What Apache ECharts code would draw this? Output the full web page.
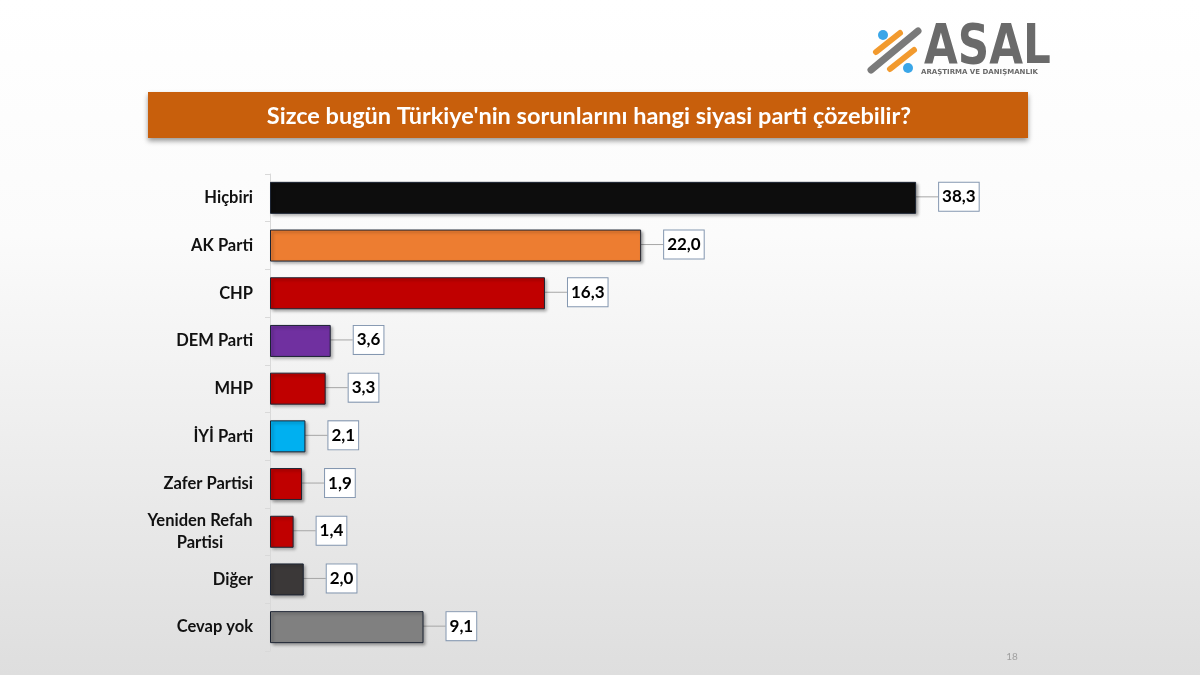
<!DOCTYPE html>
<html><head><meta charset="utf-8">
<script src="https://cdn.jsdelivr.net/npm/echarts@6/dist/echarts.min.js"></script>
<style>html,body{margin:0;padding:0;}#c{width:1200px;height:675px;}</style>
</head><body><div id="c"></div>
<script>
const categories = ['Hiçbiri','AK Parti','CHP','DEM Parti','MHP','İYİ Parti','Zafer Partisi','Yeniden Refah\nPartisi','Diğer','Cevap yok'];
const values = [38.3, 22.0, 16.3, 3.6, 3.3, 2.1, 1.9, 1.4, 2.0, 9.1];
const colors = ['#0d0d0d','#ED7D31','#C00000','#7030A0','#C00000','#00B0F0','#C00000','#C00000','#3B3838','#808080'];
const titleText = "Sizce bugün Türkiye'nin sorunlarını hangi siyasi parti çözebilir?";

const chart = echarts.init(document.getElementById('c'));
const font = 'Lato, "Open Sans", sans-serif';
chart.setOption({
  backgroundColor: {type:'linear',x:0,y:0,x2:0,y2:1,colorStops:[{offset:0,color:'#ffffff'},{offset:0.35,color:'#fbfbfb'},{offset:1,color:'#dedede'}]},
  animation:false,
  grid:{left:270,top:174,width:843.5,height:477},
  xAxis:{type:'value',min:0,max:50,show:false},
  yAxis:{type:'category',inverse:true,data:categories,
    axisLine:{show:true,lineStyle:{color:'#d9d9d9'}},
    axisTick:{show:true,length:5,lineStyle:{color:'#d9d9d9'}},
    axisLabel:{margin:17,color:'#111',fontFamily:font,fontWeight:'bold',fontSize:16.5,lineHeight:22,
      formatter:v=>{
        if(v.indexOf('\n')<0) return v;
        return v.split('\n').map(s=>'{c|'+s+'}').join('\n');
      },
      rich:{c:{width:106,align:'center',fontFamily:font,fontWeight:'bold',fontSize:16.5,lineHeight:22,color:'#111'}}
    }
  },
  series:[{
    type:'bar',
    barWidth:32,
    data:values.map((v,i)=>({value:v,itemStyle:{color:colors[i]}})),
    itemStyle:{borderColor:'#1c2433',borderWidth:1,shadowColor:'rgba(0,0,0,0.35)',shadowBlur:3,shadowOffsetX:2,shadowOffsetY:2},
    label:{show:true,position:'right',distance:0,
      formatter:p=>p.value.toFixed(1).replace('.',','),
      color:'#000',fontFamily:font,fontWeight:'bold',fontSize:17,lineHeight:18,
      backgroundColor:'#ffffff',borderColor:'#8497b0',borderWidth:1,padding:[5,3,5,3]},
    labelLayout:{dx:23,dy:-1},
    labelLine:{show:true,lineStyle:{color:'#a6a6a6',width:1}}
  }],
  graphic:[
    {type:'rect',shape:{x:148,y:92,width:880,height:46},style:{fill:'#C85F0C',shadowColor:'rgba(0,0,0,0.4)',shadowBlur:5,shadowOffsetY:3}},
    {type:'text',x:589,y:116,style:{text:titleText,fill:'#fff',font:'bold 23.5px '+font,align:'center',verticalAlign:'middle'}},
    {type:'line',shape:{x1:871,y1:70,x2:918,y2:31},style:{stroke:'#7a7a7a',lineWidth:7,lineCap:'round'}},
    {type:'line',shape:{x1:876,y1:52,x2:900,y2:33},style:{stroke:'#F29A2E',lineWidth:6,lineCap:'round'}},
    {type:'line',shape:{x1:890,y1:69,x2:914,y2:50},style:{stroke:'#F29A2E',lineWidth:6,lineCap:'round'}},
    {type:'circle',shape:{cx:883,cy:35,r:5},style:{fill:'#3AA6E8'}},
    {type:'circle',shape:{cx:908,cy:68,r:5},style:{fill:'#3AA6E8'}},
    {type:'text',x:924,y:49,scaleX:0.84,scaleY:1.05,style:{text:'ASAL',fill:'#6a6a6a',font:'bold 52px "DejaVu Sans", sans-serif',verticalAlign:'middle'}},
    {type:'text',x:921,y:72,style:{text:'ARAŞTIRMA VE DANIŞMANLIK',fill:'#6a6a6a',font:'bold 7px "DejaVu Sans", sans-serif',verticalAlign:'middle'}},
    {type:'text',x:1012,y:657,style:{text:'18',fill:'#a0a0a0',font:'10px '+font,align:'center',verticalAlign:'middle'}}
  ]
});
</script></body></html>
